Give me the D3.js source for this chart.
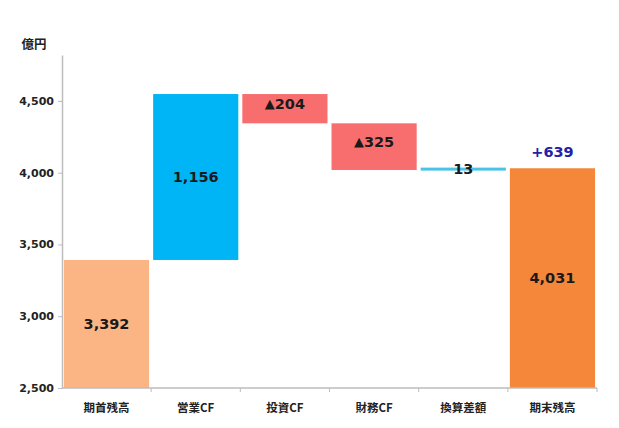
<!DOCTYPE html>
<html><head><meta charset="utf-8">
<script src="https://cdn.jsdelivr.net/npm/d3@7"></script>
<style>body{margin:0;background:#fff}svg{display:block}</style>
</head><body>
<svg id="c" width="619" height="428"></svg>
<script>
const categories = ["期首残高","営業CF","投資CF","財務CF","換算差額","期末残高"];
const deltas = [3392, 1156, -204, -325, 13, 4031];
const kinds = ["total","up","down","down","up","total"];
const labels = ["3,392","1,156","▲204","▲325","13","4,031"];
const yTicks = [2500, 3000, 3500, 4000, 4500];
const totalChange = "+639";
const colors = {start:"#FBB584", up:"#00B5F5", down:"#F86E6E", small:"#4CC3E6", end:"#F5873A"};

const svg = d3.select("#c");
const m = {l:62, r:22, t:55, b:40};
const W = 619, H = 428;
const x = d3.scaleBand().domain(categories).range([m.l, W-m.r]).paddingInner(0.045).paddingOuter(0.022);
const y = d3.scaleLinear().domain([2500, 4820]).range([H-m.b, m.t]);

let run = 0;
const bars = categories.map((c,i)=>{
  let y0, y1;
  if (i===0){ y0=2500; y1=deltas[i]; run=deltas[i]; }
  else if (kinds[i]==="total"){ y0=2500; y1=deltas[i]; }
  else { y0=run; y1=run+deltas[i]; run=y1; }
  return {c, i, lo:Math.min(y0,y1), hi:Math.max(y0,y1), label:labels[i]};
});

function col(i){
  if(i===0) return colors.start;
  if(i===categories.length-1) return colors.end;
  if(i===4) return colors.small;
  return deltas[i]>=0?colors.up:colors.down;
}

svg.selectAll("rect.bar").data(bars).join("rect")
  .attr("x", d=>x(d.c)).attr("width", x.bandwidth())
  .attr("y", d=> d.i===4 ? y(d.hi)-0.5 : y(d.hi))
  .attr("height", d=> d.i===4 ? 3 : y(d.lo)-y(d.hi))
  .attr("fill", d=>col(d.i));

const gy = svg.append("g").attr("transform",`translate(${m.l},0)`)
  .call(d3.axisLeft(y).tickValues(yTicks).tickFormat(d3.format(",")).tickSize(4).tickSizeOuter(0));
gy.select(".domain").attr("stroke","#bdbdbd").attr("stroke-width",1.5);
gy.selectAll(".tick line").attr("stroke","#bdbdbd");
gy.selectAll(".tick text").attr("font-family","DejaVu Sans, Verdana, sans-serif").attr("font-weight","bold").attr("font-size","11px").attr("fill","#222").attr("x",-8);

const step = x.step();
svg.append("line").attr("x1",m.l).attr("x2",W-m.r).attr("y1",y(2500)).attr("y2",y(2500)).attr("stroke","#bdbdbd").attr("stroke-width",1.5);
const bounds = categories.map((c,i)=> x(c)+x.bandwidth()+ x.paddingInner()*step/2);
svg.selectAll("line.xt").data(bounds).join("line")
  .attr("x1",d=>d).attr("x2",d=>d).attr("y1",y(2500)).attr("y2",y(2500)+4).attr("stroke","#bdbdbd");

svg.selectAll("text.cat").data(categories).join("text")
  .attr("x", d=>x(d)+x.bandwidth()/2).attr("y", 412)
  .attr("text-anchor","middle").attr("font-family","Noto Sans CJK JP, sans-serif")
  .attr("font-weight","bold").attr("font-size","11.5px").attr("fill","#222").text(d=>d);

const vt = svg.selectAll("text.val").data(bars).join("text")
  .attr("x", d=>x(d.c)+x.bandwidth()/2)
  .attr("y", d=> (y(d.lo)+y(d.hi))/2)
  .attr("dy","0.36em")
  .attr("text-anchor","middle").attr("font-family","DejaVu Sans, Verdana, sans-serif")
  .attr("font-weight","bold").attr("font-size","14.5px").attr("fill","#1a1a1a");
vt.each(function(d){
  const t = d3.select(this);
  if (d.label.startsWith("▲")) {
    t.append("tspan").attr("font-size","13px").attr("dy","-0.05em").text("▲");
    t.append("tspan").attr("dy","0.05em").text(d.label.slice(1));
  } else t.text(d.label);
});

const last = bars[bars.length-1];
svg.append("text").attr("x", x(last.c)+x.bandwidth()/2).attr("y", y(last.hi)-11)
  .attr("text-anchor","middle").attr("font-family","DejaVu Sans, Verdana, sans-serif")
  .attr("font-weight","bold").attr("font-size","14.5px").attr("fill","#2222A8").text(totalChange);

svg.append("text").attr("x",34).attr("y",49).attr("text-anchor","middle")
  .attr("font-family","Noto Sans CJK JP, sans-serif").attr("font-weight","bold")
  .attr("font-size","12.5px").attr("fill","#222").text("億円");
</script>
</body></html>
